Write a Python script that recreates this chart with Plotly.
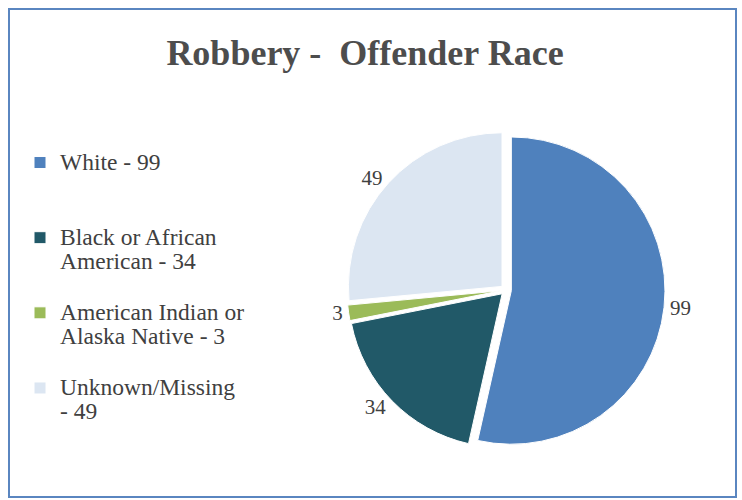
import plotly.graph_objects as go

# Robbery offenders by race
categories = ["White", "Black or African American", "American Indian or Alaska Native", "Unknown/Missing"]
legend_text = [
    "White - 99<br> <br> ",
    "Black or African<br>American - 34<br> ",
    "American Indian or<br>Alaska Native - 3<br> ",
    "Unknown/Missing<br>- 49<br> ",
]
counts = [99, 34, 3, 49]
colors = ["#4F81BD", "#215968", "#9BBB59", "#DCE6F2"]

W, H = 742, 500
SERIF = "Liberation Serif, Times New Roman, serif"

labels = [f'<span style="font-size:23.5px">{t}</span>' for t in legend_text]

fig = go.Figure(
    go.Pie(
        labels=labels,
        values=counts,
        sort=False,
        direction="clockwise",
        rotation=0,
        pull=[0.035] * len(counts),
        marker=dict(colors=colors, line=dict(color="white", width=1)),
        textinfo="value",
        textposition="outside",
        textfont=dict(family=SERIF, size=21, color="#404040"),
        hovertext=categories,
        hoverinfo="text+value",
        domain=dict(x=[(506 - 159) / W, (506 + 159) / W],
                    y=[(210 - 159) / H, (210 + 159) / H]),
    )
)

fig.update_layout(
    width=W,
    height=H,
    margin=dict(l=0, r=0, t=0, b=0),
    paper_bgcolor="white",
    plot_bgcolor="white",
    title=dict(
        text="Robbery -\u00a0 Offender Race",
        x=365 / W,
        xanchor="center",
        y=1 - 52 / H,
        yanchor="middle",
        yref="container",
        font=dict(family=SERIF, size=36, color="#4D4D4D", weight="bold"),
    ),
    legend=dict(
        x=20 / W,
        xanchor="left",
        y=1 - 144 / H,
        yanchor="top",
        valign="top",
        font=dict(family=SERIF, size=18.5, color="#404040"),
        bgcolor="rgba(0,0,0,0)",
    ),
    shapes=[
        dict(type="rect", xref="paper", yref="paper",
             x0=9 / W, x1=736 / W, y0=1 - 497 / H, y1=1 - 9 / H,
             line=dict(color="#5A86C0", width=2), fillcolor="rgba(0,0,0,0)"),
    ],
)

fig.write_html("out.html")
